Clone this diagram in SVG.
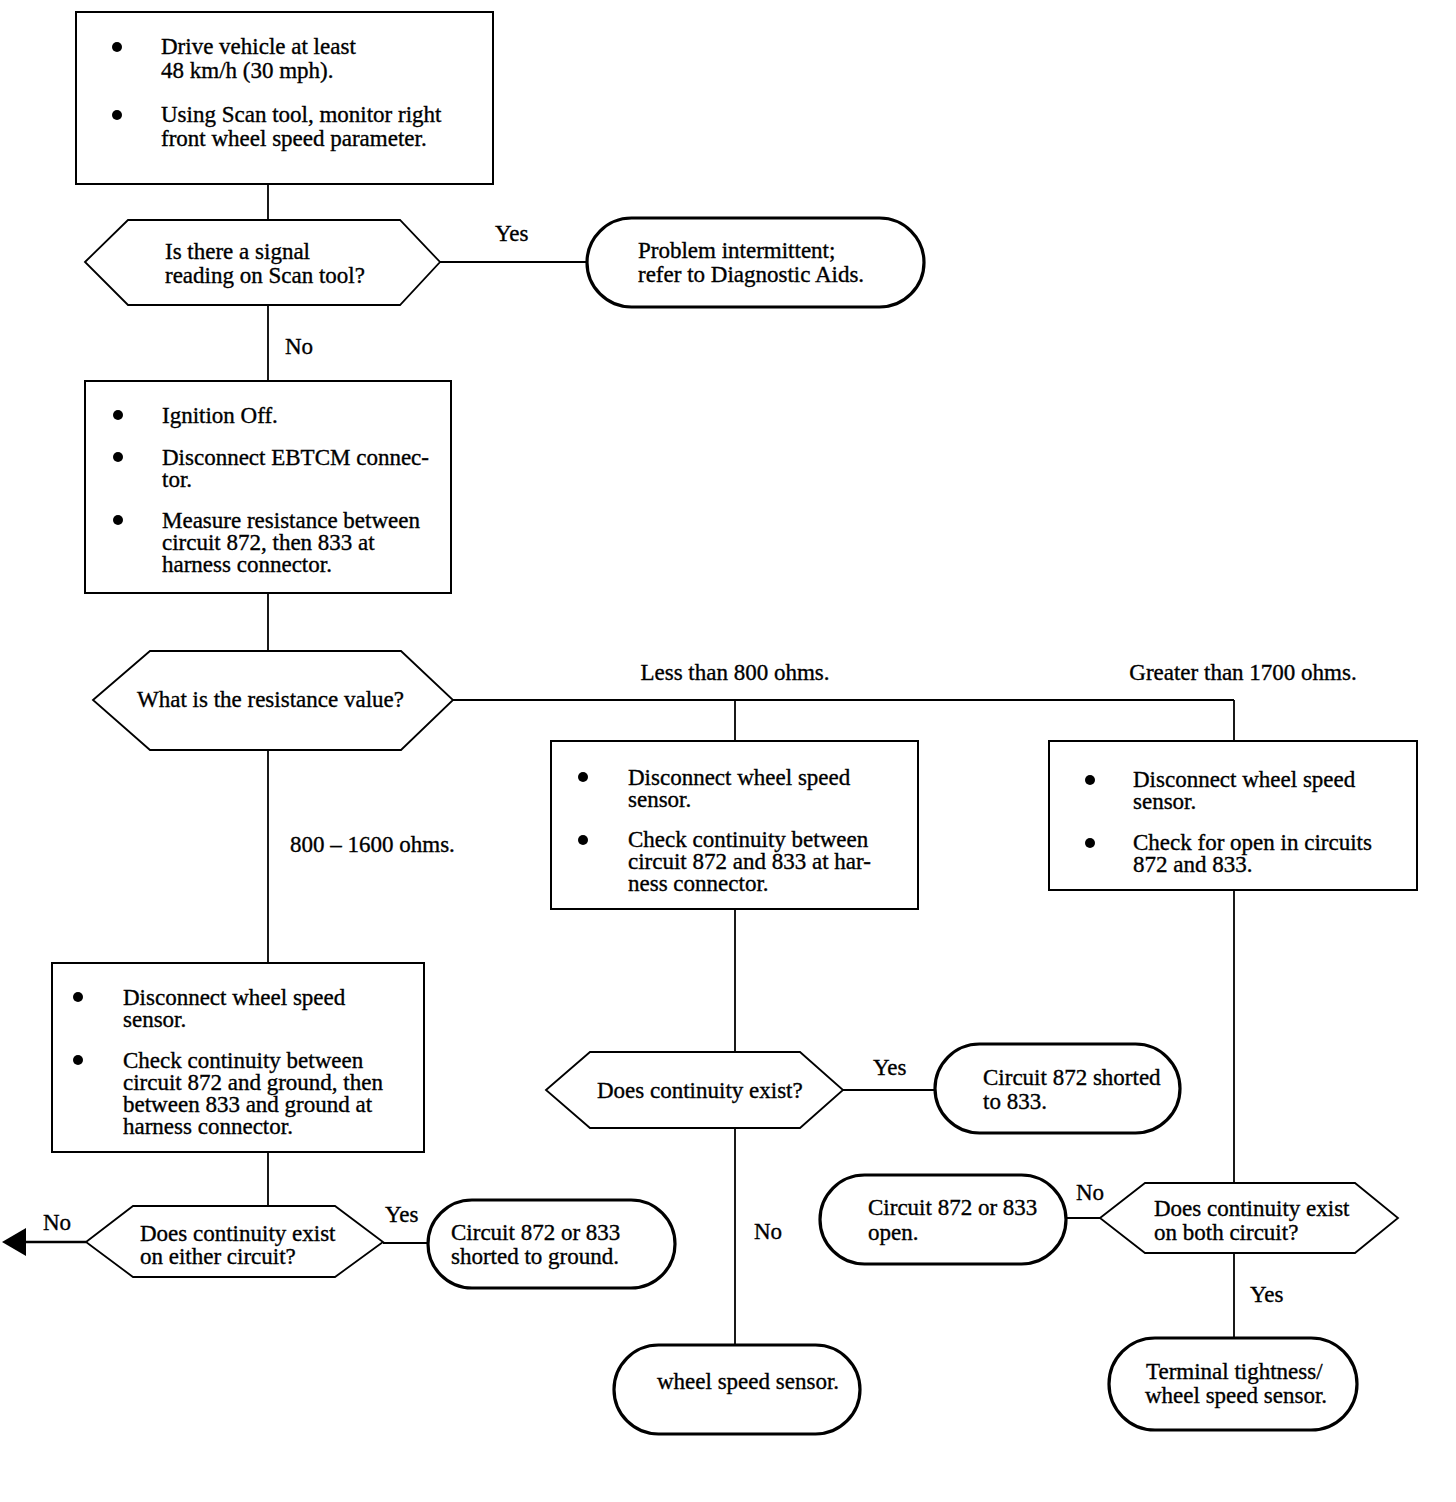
<svg xmlns="http://www.w3.org/2000/svg" width="1456" height="1502" viewBox="0 0 1456 1502">
<defs>
<style>
text{font-family:"Liberation Serif","Times New Roman",serif;font-size:23px;fill:#000;stroke:#000;stroke-width:0.35}
.box{fill:#fff;stroke:#000;stroke-width:2}
.hex{fill:#fff;stroke:#000;stroke-width:1.8}
.term{fill:#fff;stroke:#000;stroke-width:3.2}
.ln{stroke:#000;stroke-width:1.8;fill:none}
.dot{fill:#000}
</style>
</defs>
<rect width="1456" height="1502" fill="#fff"/>
<g id="connectors">
<line class="ln" x1="268" y1="184" x2="268" y2="220"/>
<line class="ln" x1="440" y1="262" x2="587" y2="262"/>
<line class="ln" x1="268" y1="305" x2="268" y2="381"/>
<line class="ln" x1="268" y1="593" x2="268" y2="651"/>
<line class="ln" x1="453" y1="700" x2="1234" y2="700"/>
<line class="ln" x1="735" y1="700" x2="735" y2="741"/>
<line class="ln" x1="1234" y1="700" x2="1234" y2="741"/>
<line class="ln" x1="268" y1="750" x2="268" y2="963"/>
<line class="ln" x1="735" y1="909" x2="735" y2="1052"/>
<line class="ln" x1="1234" y1="890" x2="1234" y2="1183"/>
<line class="ln" x1="268" y1="1152" x2="268" y2="1206"/>
<line class="ln" x1="383" y1="1243" x2="428" y2="1243"/>
<line class="ln" x1="843" y1="1090" x2="935" y2="1090"/>
<line class="ln" x1="735" y1="1128" x2="735" y2="1345"/>
<line class="ln" x1="1100" y1="1218" x2="1066" y2="1218"/>
<line class="ln" x1="1234" y1="1253" x2="1234" y2="1338"/>
<line x1="86" y1="1242" x2="26" y2="1242" stroke="#000" stroke-width="2.5"/>
<path d="M26,1228L2,1242L26,1256Z" fill="#000"/>
<text x="495" y="241">Yes</text>
<text x="285" y="354">No</text>
<text x="735" y="680" text-anchor="middle">Less than 800 ohms.</text>
<text x="1243" y="680" text-anchor="middle">Greater than 1700 ohms.</text>
<text x="290" y="852">800 – 1600 ohms.</text>
<text x="43" y="1230">No</text>
<text x="385" y="1222">Yes</text>
<text x="873" y="1075">Yes</text>
<text x="754" y="1239">No</text>
<text x="1076" y="1200">No</text>
<text x="1250" y="1302">Yes</text>
</g>
<g id="box1">
<rect class="box" x="76" y="12" width="417" height="172"/>
<circle class="dot" cx="117" cy="47" r="5"/>
<circle class="dot" cx="117" cy="115" r="5"/>
<text x="161" y="54">Drive vehicle at least</text>
<text x="161" y="78">48 km/h (30 mph).</text>
<text x="161" y="122">Using Scan tool, monitor right</text>
<text x="161" y="146">front wheel speed parameter.</text>
</g>
<g id="dec1">
<polygon class="hex" points="85,262 128,220 400,220 440,262 400,305 128,305"/>
<text x="165" y="259">Is there a signal</text>
<text x="165" y="283">reading on Scan tool?</text>
</g>
<g id="term1">
<rect class="term" x="587" y="218" width="337" height="89" rx="44.5"/>
<text x="638" y="258">Problem intermittent;</text>
<text x="638" y="282">refer to Diagnostic Aids.</text>
</g>
<g id="box2">
<rect class="box" x="85" y="381" width="366" height="212"/>
<circle class="dot" cx="118" cy="415" r="5"/>
<circle class="dot" cx="118" cy="457" r="5"/>
<circle class="dot" cx="118" cy="520" r="5"/>
<text x="162" y="423">Ignition Off.</text>
<text x="162" y="465">Disconnect EBTCM connec-</text>
<text x="162" y="487">tor.</text>
<text x="162" y="528">Measure resistance between</text>
<text x="162" y="550">circuit 872, then 833 at</text>
<text x="162" y="572">harness connector.</text>
</g>
<g id="dec2">
<polygon class="hex" points="93,700 150,651 401,651 453,700 401,750 150,750"/>
<text x="137" y="707">What is the resistance value?</text>
</g>
<g id="box3">
<rect class="box" x="551" y="741" width="367" height="168"/>
<circle class="dot" cx="583" cy="777" r="5"/>
<circle class="dot" cx="583" cy="840" r="5"/>
<text x="628" y="785">Disconnect wheel speed</text>
<text x="628" y="807">sensor.</text>
<text x="628" y="847">Check continuity between</text>
<text x="628" y="869">circuit 872 and 833 at har-</text>
<text x="628" y="891">ness connector.</text>
</g>
<g id="box4">
<rect class="box" x="1049" y="741" width="368" height="149"/>
<circle class="dot" cx="1090" cy="780" r="5"/>
<circle class="dot" cx="1090" cy="843" r="5"/>
<text x="1133" y="787">Disconnect wheel speed</text>
<text x="1133" y="809">sensor.</text>
<text x="1133" y="850">Check for open in circuits</text>
<text x="1133" y="872">872 and 833.</text>
</g>
<g id="box5">
<rect class="box" x="52" y="963" width="372" height="189"/>
<circle class="dot" cx="78" cy="997" r="5"/>
<circle class="dot" cx="78" cy="1060" r="5"/>
<text x="123" y="1005">Disconnect wheel speed</text>
<text x="123" y="1027">sensor.</text>
<text x="123" y="1068">Check continuity between</text>
<text x="123" y="1090">circuit 872 and ground, then</text>
<text x="123" y="1112">between 833 and ground at</text>
<text x="123" y="1134">harness connector.</text>
</g>
<g id="dec3">
<polygon class="hex" points="86,1242 133,1206 335,1206 383,1242 335,1277 133,1277"/>
<text x="140" y="1241">Does continuity exist</text>
<text x="140" y="1264">on either circuit?</text>
</g>
<g id="term2">
<rect class="term" x="428" y="1200" width="247" height="88" rx="44"/>
<text x="451" y="1240">Circuit 872 or 833</text>
<text x="451" y="1264">shorted to ground.</text>
</g>
<g id="dec4">
<polygon class="hex" points="546,1090 590,1052 800,1052 843,1090 800,1128 590,1128"/>
<text x="597" y="1098">Does continuity exist?</text>
</g>
<g id="term3">
<rect class="term" x="935" y="1044" width="245" height="89" rx="44.5"/>
<text x="983" y="1085">Circuit 872 shorted</text>
<text x="983" y="1109">to 833.</text>
</g>
<g id="term4">
<rect class="term" x="614" y="1345" width="246" height="89" rx="44.5"/>
<text x="657" y="1389">wheel speed sensor.</text>
</g>
<g id="dec5">
<polygon class="hex" points="1100,1218 1145,1183 1355,1183 1398,1218 1355,1253 1145,1253"/>
<text x="1154" y="1216">Does continuity exist</text>
<text x="1154" y="1240">on both circuit?</text>
</g>
<g id="term5">
<rect class="term" x="820" y="1175" width="246" height="89" rx="44.5"/>
<text x="868" y="1215">Circuit 872 or 833</text>
<text x="868" y="1240">open.</text>
</g>
<g id="term6">
<rect class="term" x="1109" y="1338" width="248" height="92" rx="46"/>
<text x="1146" y="1379">Terminal tightness/</text>
<text x="1145" y="1403">wheel speed sensor.</text>
</g>
</svg>
